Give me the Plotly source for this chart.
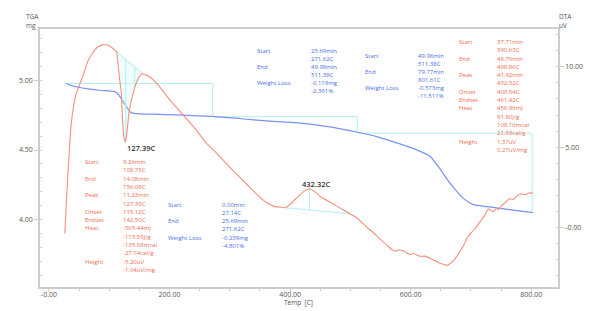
import numpy as np
import plotly.graph_objects as go

# ---------------- data ----------------
tga_temp = [28, 40, 51, 65, 84, 100, 108.6, 113, 117, 122, 128, 132, 136, 145, 170, 194, 230,
            276, 319, 360, 413, 460, 512, 545, 578, 605, 632, 646, 660, 674, 688, 704, 716,
            731, 760, 780, 803]
tga_mg = [4.979, 4.96, 4.95, 4.94, 4.93, 4.925, 4.92, 4.91, 4.888, 4.855, 4.816, 4.79, 4.769,
          4.762, 4.758, 4.755, 4.75, 4.741, 4.725, 4.71, 4.695, 4.67, 4.628, 4.595, 4.55, 4.51,
          4.455, 4.38, 4.293, 4.215, 4.15, 4.107, 4.098, 4.09, 4.073, 4.062, 4.05]

dta_temp = [26.3, 31, 37.4, 45, 56, 64, 72.4, 80, 88.9, 97, 105.3, 112, 115, 118, 120, 122,
            124.5, 126.7, 128.5, 130, 133, 138.3, 144, 149.8, 154.7, 160, 168, 177.8, 190, 204,
            224, 243.6, 260, 276.5, 290, 302.9, 320, 335.8, 348, 358.8, 366, 375.3, 383, 391.7,
            400, 413, 423, 433, 442, 451, 465, 479, 495, 512, 528, 545, 553, 561, 568, 574.5,
            581, 589, 594, 599, 605, 615.6, 624, 632, 640, 648.5, 654, 660, 665, 671.6, 680,
            688, 693, 700, 709.4, 716, 722.6, 729, 733, 737, 742, 746, 750.6, 757, 763.7, 770,
            775, 783.5, 790, 796.6, 800, 803]
dta_uv = [-0.37, 3.0, 6.6, 8.3, 9.38, 10.3, 10.86, 11.2, 11.36, 11.35, 11.17, 10.93, 10.0, 9.0,
          8.4, 6.73, 5.6, 5.31, 5.6, 6.11, 7.2, 8.15, 8.9, 9.38, 9.57, 9.5, 9.35, 9.01, 8.45,
          7.78, 6.95, 6.11, 5.3, 4.69, 4.15, 3.64, 3.0, 2.41, 1.95, 1.6, 1.45, 1.30, 1.28, 1.23,
          1.45, 1.91, 2.25, 2.41, 2.2, 1.91, 1.6, 1.30, 0.95, 0.56, 0.0, -0.56, -0.85, -1.11,
          -1.35, -1.48, -1.38, -1.48, -1.60, -1.67, -1.62, -1.79, -1.78, -1.91, -2.05, -2.22,
          -2.28, -2.35, -2.25, -2.04, -1.6, -1.11, -0.68, -0.35, 0.06, 0.4, 0.74, 1.17, 1.05,
          0.99, 1.17, 1.12, 1.36, 1.55, 1.79, 1.75, 1.91, 2.10, 2.05, 2.16, 2.12, 2.22]

# analysis results
step_temps = [27.14, 271.62, 511.38, 801.61]
step_losses_mg = [0.239, 0.119, 0.573]
peak1_temps = {"start": 108.75, "end": 156.08, "peak": 127.39, "endset": 142.50}
peak2_temps = {"start": 390.63, "end": 498.86, "peak": 432.32}
peak_labels = ["127.39C", "432.32C"]

x_tickvals = [0, 200, 400, 600, 800]
x_ticktext = ["-0.00", "200.00", "400.00", "600.00", "800.00"]
y1_tickvals = [4.0, 4.5, 5.0]
y1_ticktext = ["4.00", "4.50", "5.00"]
y2_tickvals = [0, 5, 10]
y2_ticktext = ["-0.00", "5.00", "10.00"]

peak1_block = [("Start", ["9.26min", "108.75C"]), ("End", ["14.08min", "156.08C"]),
               ("Peak", ["11.23min", "127.39C"]), ("Onset", ["115.12C"]), ("Endset", ["142.50C"]),
               ("Heat", ["-565.44mJ", "-113.59J/g", "-135.08mcal", "-27.14cal/g"]),
               ("Height", ["-5.20uV", "-1.04uV/mg"])]
peak2_block = [("Start", ["37.71min", "390.63C"]), ("End", ["48.70min", "498.86C"]),
               ("Peak", ["41.92min", "432.32C"]), ("Onset", ["400.54C"]), ("Endset", ["461.42C"]),
               ("Heat", ["456.96mJ", "91.80J/g", "109.16mcal", "21.93cal/g"]),
               ("Height", ["1.37uV", "0.27uV/mg"])]
step1_block = [("Start", ["0.00min", "27.14C"]), ("End", ["25.69min", "271.62C"]),
               ("Weight Loss", ["-0.239mg", "-4.801%"])]
step2_block = [("Start", ["25.69min", "271.62C"]), ("End", ["49.98min", "511.38C"]),
               ("Weight Loss", ["-0.119mg", "-2.391%"])]
step3_block = [("Start", ["49.98min", "511.38C"]), ("End", ["79.77min", "801.61C"]),
               ("Weight Loss", ["-0.573mg", "-11.511%"])]

# ---------------- styles ----------------
RED_LINE = "#f4907c"
RED_TEXT = "#f26a50"
BLUE_LINE = "#7a92f2"
BLUE_TEXT = "#4a6ee6"
CYAN = "#aef0f2"
AXIS = "#cdcdcd"
FONT = "Open Sans"

W, H = 595, 311
L, R, T, B = 40, 562, 29, 289


def paper(xp, yp):
    return (xp - L) / (R - L), (B - yp) / (B - T)


fig = go.Figure()

dt = np.array(dta_temp)
dv = np.array(dta_uv)


def D(t):
    return float(np.interp(t, dt, dv))


# peak 1 fill + lines
p1s, p1e = peak1_temps["start"], peak1_temps["end"]
b1 = lambda t: D(p1s) + (D(p1e) - D(p1s)) * (t - p1s) / (p1e - p1s)
inner = [t for t in dta_temp if p1s < t < p1e]
poly_t = [p1s] + inner + [p1e]
poly_v = [D(p1s)] + [D(t) for t in inner] + [D(p1e)]
fig.add_trace(go.Scatter(x=poly_t, y=poly_v, yaxis="y2", mode="lines", fill="toself",
                         fillcolor="rgba(200,246,246,0.25)", line=dict(width=0),
                         hoverinfo="skip", showlegend=False))
fig.add_trace(go.Scatter(x=[p1s, p1e], y=[D(p1s), D(p1e)], yaxis="y2", mode="lines",
                         line=dict(color=CYAN, width=1), showlegend=False))
for key in ("peak", "endset"):
    t = peak1_temps[key]
    fig.add_trace(go.Scatter(x=[t, t], y=[b1(t), D(t)], yaxis="y2", mode="lines",
                             line=dict(color=CYAN, width=1), showlegend=False))

# peak 2 lines
p2s, p2e = peak2_temps["start"], peak2_temps["end"]
b2 = lambda t: D(p2s) + (D(p2e) - D(p2s)) * (t - p2s) / (p2e - p2s)
fig.add_trace(go.Scatter(x=[p2s, p2e], y=[D(p2s), D(p2e)], yaxis="y2", mode="lines",
                         line=dict(color=CYAN, width=1), showlegend=False))
tp = peak2_temps["peak"]
fig.add_trace(go.Scatter(x=[tp, tp], y=[b2(tp), D(tp)], yaxis="y2", mode="lines",
                         line=dict(color=CYAN, width=1), showlegend=False))

# TGA step lines
m = [float(np.interp(step_temps[0], tga_temp, tga_mg))]
for loss in step_losses_mg:
    m.append(m[-1] - loss)
sx, sy = [], []
for i in range(3):
    sx += [step_temps[i], step_temps[i + 1], step_temps[i + 1]]
    sy += [m[i], m[i], m[i + 1]]
fig.add_trace(go.Scatter(x=sx, y=sy, mode="lines", line=dict(color=CYAN, width=1),
                         showlegend=False))

# curves
fig.add_trace(go.Scatter(x=dta_temp, y=dta_uv, yaxis="y2", mode="lines",
                         line=dict(color=RED_LINE, width=1.1, shape="spline", smoothing=0.5),
                         showlegend=False))
fig.add_trace(go.Scatter(x=tga_temp, y=tga_mg, mode="lines",
                         line=dict(color=BLUE_LINE, width=1.2, shape="spline", smoothing=0.6),
                         showlegend=False))

annotations = []


def add_text(txt, xp, yp, color, size=6, anchor="left", weight=None):
    px_, py_ = paper(xp, yp)
    f = dict(family=FONT, size=size, color=color)
    if weight:
        f["weight"] = weight
    annotations.append(dict(text=txt, x=px_, y=py_, xref="paper", yref="paper",
                            xanchor=anchor, yanchor="middle", showarrow=False, font=f,
                            borderpad=0))


def add_block(block, lx, vx, y0, step, color):
    i = 0
    for label, vals in block:
        add_text(label, lx, y0 + i * step, color)
        for v in vals:
            add_text(v, vx, y0 + i * step, color)
            i += 1


add_block(peak1_block, 84, 123, 163, 8.38, RED_TEXT)
add_block(peak2_block, 461, 500, 42, 8.38, RED_TEXT)
add_block(step1_block, 168, 222, 206, 8.3, BLUE_TEXT)
add_block(step2_block, 258, 312, 51, 8.1, BLUE_TEXT)
add_block(step3_block, 367, 420, 56, 8.2, BLUE_TEXT)

add_text(peak_labels[0], 127, 149, "#333333", size=7.5, weight=600)
add_text(peak_labels[1], 303, 185, "#333333", size=7.5, weight=600)

add_text("TGA", 32, 16.5, "#555555", size=6.5, anchor="center")
add_text("mg", 31, 25.5, "#555555", size=6.5, anchor="center")
add_text("DTA", 562, 16.5, "#555555", size=6.5)
add_text("uV", 562, 25.5, "#555555", size=6.5)
add_text("Temp  [C]", 300, 304.5, "#555555", size=6.5, anchor="center")

tickfont = dict(family=FONT, size=7, color="#555555")

fig.update_layout(
    width=W, height=H,
    margin=dict(l=L, r=W - R, t=T, b=H - B, pad=0),
    paper_bgcolor="white", plot_bgcolor="white",
    showlegend=False,
    annotations=annotations,
    xaxis=dict(range=[-14.8, 844.4], tickmode="array", tickvals=x_tickvals, ticktext=x_ticktext,
               showline=True, linecolor=AXIS, linewidth=1.5, mirror=True,
               ticks="outside", ticklen=3, tickcolor=AXIS, tickfont=tickfont,
               ticklabelstandoff=-3,
               showgrid=False, zeroline=False,
               minor=dict(tickmode="linear", tick0=0, dtick=50, ticks="outside", ticklen=2,
                          tickcolor=AXIS)),
    yaxis=dict(range=[3.514, 5.371], tickmode="array", tickvals=y1_tickvals, ticktext=y1_ticktext,
               showline=True, linecolor=AXIS, linewidth=1.5,
               ticks="outside", ticklen=4, tickcolor=AXIS, tickfont=tickfont,
               showgrid=False, zeroline=False,
               minor=dict(tickmode="linear", tick0=0, dtick=0.1, ticks="inside", ticklen=2,
                          tickcolor=AXIS)),
    yaxis2=dict(range=[-3.70, 12.35], overlaying="y", side="right", tickmode="array",
                tickvals=y2_tickvals, ticktext=y2_ticktext,
                showline=True, linecolor=AXIS, linewidth=1.5,
                ticks="outside", ticklen=4, tickcolor=AXIS, tickfont=tickfont,
                showgrid=False, zeroline=False,
                minor=dict(tickmode="linear", tick0=0, dtick=1, ticks="inside", ticklen=2,
                           tickcolor=AXIS)),
)

fig.write_html("out.html", config={"displayModeBar": False},
               post_script="document.body.style.margin='0';document.body.style.overflow='hidden';")
